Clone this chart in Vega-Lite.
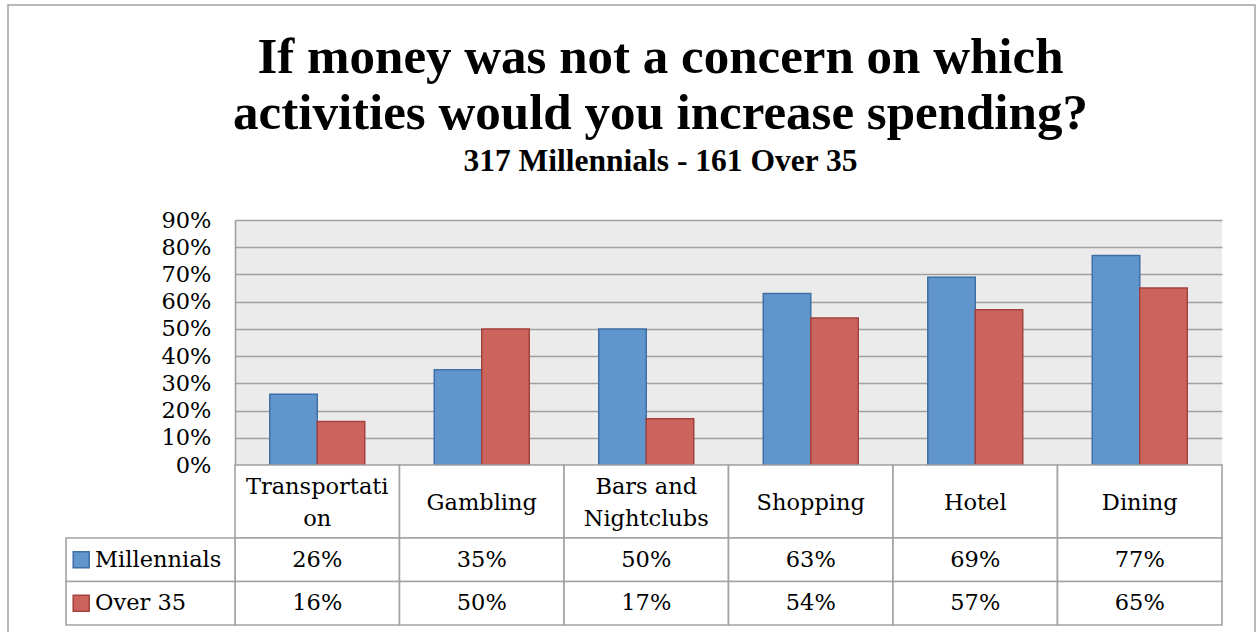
{
  "$schema": "https://vega.github.io/schema/vega-lite/v6.json",
  "width": 987,
  "height": 245,
  "autosize": {"type": "none"},
  "padding": {"left": 235, "top": 220, "right": 36, "bottom": 167},
  "background": "white",
  "config": {
    "font": "DejaVu Serif",
    "view": {"fill": "#ebebeb", "stroke": null}
  },
  "title": {
    "text": ["If money was not a concern on which", "activities would you increase spending?"],
    "subtitle": "317 Millennials - 161 Over 35",
    "font": "Liberation Serif",
    "fontSize": 51,
    "fontWeight": "bold",
    "lineHeight": 56,
    "color": "black",
    "subtitleFont": "Liberation Serif",
    "subtitleFontSize": 31.5,
    "subtitleFontWeight": "bold",
    "subtitleColor": "black",
    "subtitlePadding": 6,
    "anchor": "middle",
    "frame": "group",
    "offset": -174,
    "dx": -68
  },
  "datasets": {
    "values": [
      {"category": "Transportation", "group": "Millennials", "value": 0.26},
      {"category": "Transportation", "group": "Over 35", "value": 0.16},
      {"category": "Gambling", "group": "Millennials", "value": 0.35},
      {"category": "Gambling", "group": "Over 35", "value": 0.50},
      {"category": "Bars and Nightclubs", "group": "Millennials", "value": 0.50},
      {"category": "Bars and Nightclubs", "group": "Over 35", "value": 0.17},
      {"category": "Shopping", "group": "Millennials", "value": 0.63},
      {"category": "Shopping", "group": "Over 35", "value": 0.54},
      {"category": "Hotel", "group": "Millennials", "value": 0.69},
      {"category": "Hotel", "group": "Over 35", "value": 0.57},
      {"category": "Dining", "group": "Millennials", "value": 0.77},
      {"category": "Dining", "group": "Over 35", "value": 0.65}
    ],
    "categories": [
      {"category": "Transportation", "label": "Transportati\non"},
      {"category": "Gambling", "label": "Gambling"},
      {"category": "Bars and Nightclubs", "label": "Bars and\nNightclubs"},
      {"category": "Shopping", "label": "Shopping"},
      {"category": "Hotel", "label": "Hotel"},
      {"category": "Dining", "label": "Dining"}
    ],
    "frame": [{"part": "frame"}]
  },
  "resolve": {"scale": {"x": "independent", "y": "independent"}},
  "layer": [
    {
      "data": {"name": "frame"},
      "mark": {"type": "rect", "fill": "white", "fillOpacity": 0, "stroke": "#a3a3a3", "strokeWidth": 1.5},
      "encoding": {
        "x": {"datum": 0, "type": "quantitative", "scale": {"domain": [0, 1], "range": [-227, 1020], "nice": false, "zero": false}, "axis": null},
        "x2": {"datum": 1},
        "y": {"datum": 0, "type": "quantitative", "scale": {"domain": [0, 1], "range": [-215, 440], "nice": false, "zero": false}, "axis": null},
        "y2": {"datum": 1}
      }
    },
    {
      "data": {"name": "values"},
      "mark": {"type": "bar", "strokeWidth": 1.5},
      "encoding": {
        "x": {"field": "category", "type": "nominal", "sort": null, "scale": {"domain": ["Transportation", "Gambling", "Bars and Nightclubs", "Shopping", "Hotel", "Dining"], "paddingInner": 0, "paddingOuter": 0}, "axis": null},
        "xOffset": {"field": "group", "type": "nominal", "scale": {"domain": ["Millennials", "Over 35"], "paddingInner": 0, "paddingOuter": 0.732}},
        "y": {
          "field": "value", "type": "quantitative",
          "scale": {"domain": [0, 0.9], "nice": false},
          "axis": {
            "values": [0, 0.1, 0.2, 0.3, 0.4, 0.5, 0.6, 0.7, 0.8, 0.9],
            "format": ".0%",
            "title": null,
            "grid": true, "gridColor": "#a0a0a0", "gridWidth": 1.6, "gridOpacity": 1,
            "domain": true, "domainColor": "#a0a0a0", "domainWidth": 1.6,
            "ticks": false, "tickSize": 0,
            "labelPadding": 24, "labelFont": "DejaVu Serif", "labelFontSize": 22.5, "labelColor": "black",
            "labelFlush": false, "labelOverlap": false
          }
        },
        "color": {"field": "group", "type": "nominal", "scale": {"domain": ["Millennials", "Over 35"], "range": ["#6096cb", "#cc645e"]}, "legend": null},
        "stroke": {"field": "group", "type": "nominal", "scale": {"domain": ["Millennials", "Over 35"], "range": ["#3f6fa6", "#a3423d"]}, "legend": null}
      }
    },
    {
      "data": {"name": "categories"},
      "encoding": {
        "x": {"field": "category", "type": "nominal", "sort": null, "scale": {"domain": ["Transportation", "Gambling", "Bars and Nightclubs", "Shopping", "Hotel", "Dining"], "paddingInner": 0, "paddingOuter": 0}, "axis": null},
        "y": {"datum": "header", "type": "nominal", "scale": {"domain": ["header"], "range": [245, 318], "paddingInner": 0, "paddingOuter": 0}, "axis": null}
      },
      "layer": [
        {"mark": {"type": "rect", "fill": "white", "stroke": "#a3a3a3", "strokeWidth": 1.6}},
        {
          "transform": [{"filter": "indexof(datum.label, '\\n') < 0"}],
          "mark": {"type": "text", "font": "DejaVu Serif", "fontSize": 22.5, "baseline": "middle", "align": "center", "color": "black"},
          "encoding": {
            "y": {"datum": "header", "type": "nominal", "bandPosition": 0.52},
            "text": {"field": "label"}
          }
        },
        {
          "transform": [{"filter": "indexof(datum.label, '\\n') >= 0"}],
          "mark": {"type": "text", "font": "DejaVu Serif", "fontSize": 22.5, "lineHeight": 32, "lineBreak": "\n", "baseline": "middle", "align": "center", "color": "black"},
          "encoding": {
            "y": {"datum": "header", "type": "nominal", "bandPosition": 0.3},
            "text": {"field": "label"}
          }
        }
      ]
    },
    {
      "data": {"name": "values"},
      "encoding": {
        "x": {"field": "category", "type": "nominal", "sort": null, "scale": {"domain": ["Transportation", "Gambling", "Bars and Nightclubs", "Shopping", "Hotel", "Dining"], "paddingInner": 0, "paddingOuter": 0}, "axis": null},
        "y": {"field": "group", "type": "nominal", "scale": {"domain": ["Millennials", "Over 35"], "range": [318, 405], "paddingInner": 0, "paddingOuter": 0}, "axis": null}
      },
      "layer": [
        {"mark": {"type": "rect", "fill": "white", "stroke": "#a3a3a3", "strokeWidth": 1.6}},
        {
          "mark": {"type": "text", "font": "DejaVu Serif", "fontSize": 22.5, "baseline": "middle", "align": "center", "color": "black"},
          "encoding": {"text": {"field": "value", "type": "quantitative", "format": ".0%"}}
        }
      ]
    },
    {
      "data": {"name": "values"},
      "transform": [{"aggregate": [{"op": "count", "as": "n"}], "groupby": ["group"]}],
      "layer": [
        {
          "mark": {"type": "rect", "fill": "white", "stroke": "#a3a3a3", "strokeWidth": 1.6},
          "encoding": {
            "x": {"datum": "legend", "type": "nominal", "scale": {"domain": ["legend"], "range": [-169, 0], "paddingInner": 0, "paddingOuter": 0}, "axis": null},
            "y": {"field": "group", "type": "nominal", "scale": {"domain": ["Millennials", "Over 35"], "range": [318, 405], "paddingInner": 0, "paddingOuter": 0}, "axis": null}
          }
        },
        {
          "mark": {"type": "point", "shape": "square", "size": 256, "filled": true, "opacity": 1, "strokeWidth": 1.5},
          "encoding": {
            "x": {"datum": "legend", "type": "nominal", "bandPosition": 0.09},
            "y": {"field": "group", "type": "nominal"},
            "fill": {"field": "group", "type": "nominal", "scale": {"domain": ["Millennials", "Over 35"], "range": ["#6096cb", "#cc645e"]}, "legend": null},
            "stroke": {"field": "group", "type": "nominal", "scale": {"domain": ["Millennials", "Over 35"], "range": ["#3f6fa6", "#a3423d"]}, "legend": null}
          }
        },
        {
          "mark": {"type": "text", "font": "DejaVu Serif", "fontSize": 22.5, "baseline": "middle", "align": "left", "color": "black"},
          "encoding": {
            "x": {"datum": "legend", "type": "nominal", "bandPosition": 0.172},
            "y": {"field": "group", "type": "nominal"},
            "text": {"field": "group"}
          }
        }
      ]
    }
  ]
}
